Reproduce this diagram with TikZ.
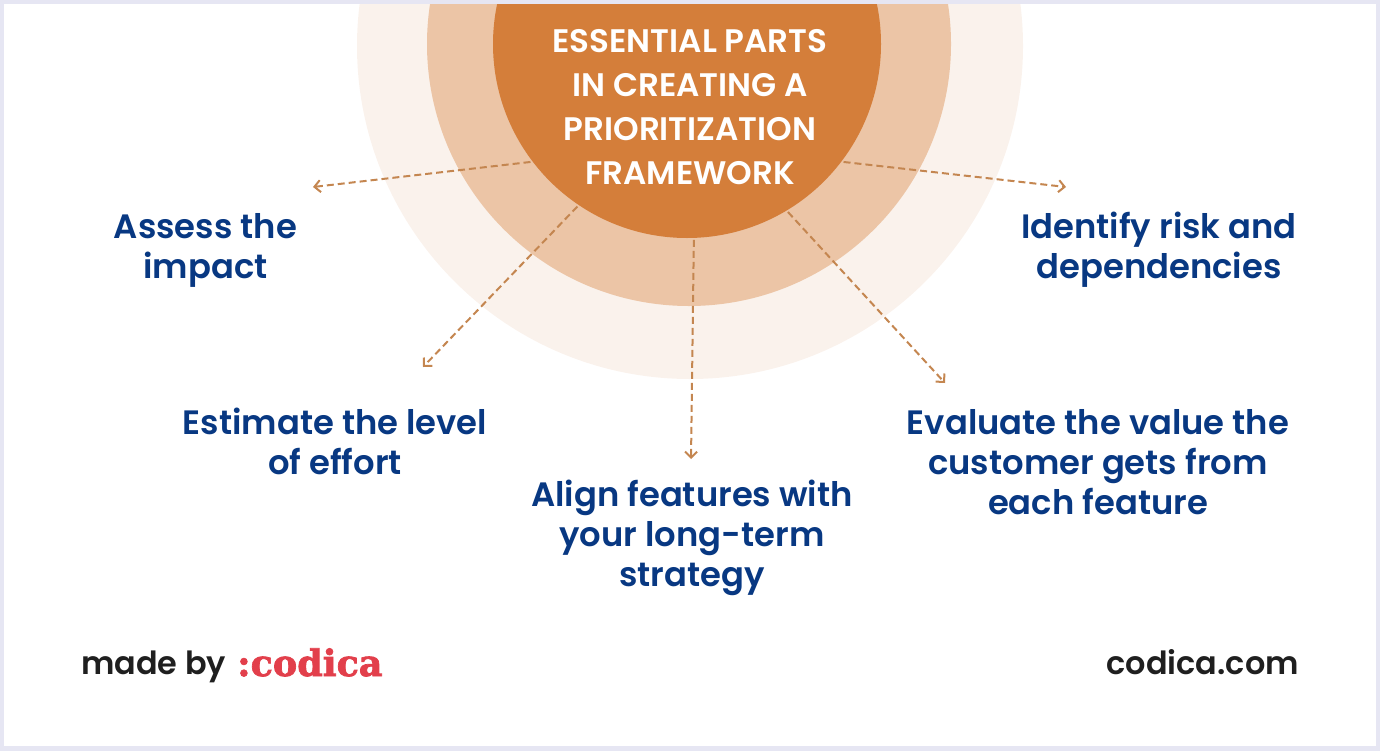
\documentclass[tikz,border=0pt]{standalone}
\usepackage{fontspec}
\setmainfont{Poppins}[BoldFont={Poppins SemiBold}]
\newfontfamily\logofont{DejaVu Serif}[BoldFont={DejaVu Serif Bold}, BoldFeatures={FakeBold=2}]
\usetikzlibrary{arrows.meta}
\definecolor{coreorange}{RGB}{212, 126, 58}
\definecolor{midorange}{RGB}{236, 197, 166}
\definecolor{outerorange}{RGB}{250, 242, 236}
\definecolor{linkbrown}{RGB}{196, 134, 80}
\definecolor{partblue}{RGB}{8, 56, 130}
\definecolor{inkdark}{RGB}{31, 31, 31}
\definecolor{logored}{RGB}{226, 63, 75}
\definecolor{framegrey}{RGB}{230, 230, 243}

\begin{document}
\begin{tikzpicture}[
  x=1pt, y=-1pt,
  ring/.style={circle, inner sep=0pt, outer sep=0pt},
  partlabel/.style={text=partblue, align=center, inner sep=0pt, font=\bfseries\fontsize{33.8}{40}\selectfont},
  titlelabel/.style={text=white, align=center, inner sep=0pt, font=\bfseries\fontsize{32.6}{44}\selectfont},
  footlabel/.style={text=inkdark, inner sep=0pt, font=\bfseries\fontsize{31.9}{36}\selectfont},
  link/.style={draw=linkbrown, line width=2pt, dash pattern=on 7pt off 4pt, -{Straight Barb[length=6pt, width=12pt]}}
]
  \useasboundingbox (0, 0) rectangle (1380, 750);

  % Rings, cut off by the top of the page
  \begin{scope}
    \clip (0, 0) rectangle (1380, 750);
    \node[ring, fill=outerorange, minimum size=666pt] (outer) at (690, 46) {};
    \node[ring, fill=midorange, minimum size=524pt] (middle) at (689, 44) {};
    \node[ring, fill=coreorange, minimum size=388pt, outer sep=2pt] (core) at (687, 44) {};
  \end{scope}

  \node[titlelabel] (title) at (690, 107) {ESSENTIAL PARTS\\IN CREATING A\\PRIORITIZATION\\FRAMEWORK};

  \node[partlabel] (impact) at (205.5, 250) {Assess the\\impact};
  \node[partlabel] (effort) at (335, 441.5) {Estimate the level\\of effort};
  \node[partlabel] (strategy) at (692, 538) {Align features with\\your long-term\\strategy};
  \node[partlabel] (value) at (1098, 462) {Evaluate the value the\\customer gets from\\each feature};
  \node[partlabel] (risk) at (1159, 250) {Identify risk and\\dependencies};

  \coordinate (impactend) at (313, 187);
  \coordinate (effortend) at (423, 367);
  \coordinate (strategyend) at (691, 459);
  \coordinate (valueend) at (945, 383);
  \coordinate (riskend) at (1066, 187);

  \draw[link] (core.217.2) -- (impactend);
  \draw[link] (core.236.7) -- (effortend);
  \draw[link] (core.272.4) -- (strategyend);
  \draw[link] (core.301.8) -- (valueend);
  \draw[link] (core.323.5) -- (riskend);

  % Footer
  \node[footlabel, anchor=base west] (madeby) at (81, 674) {made by};
  \node[anchor=base west, inner sep=0pt, text=logored, font=\logofont\bfseries\fontsize{36.5}{40}\selectfont] (logo) at (237, 676) {:codica};
  \node[footlabel, anchor=base east] (site) at (1299, 674) {codica.com};

  \node[draw=framegrey, line width=8pt, minimum width=1380pt, minimum height=750pt, outer sep=0pt, inner sep=0pt] (frame) at (690, 375) {};
\end{tikzpicture}
\end{document}
